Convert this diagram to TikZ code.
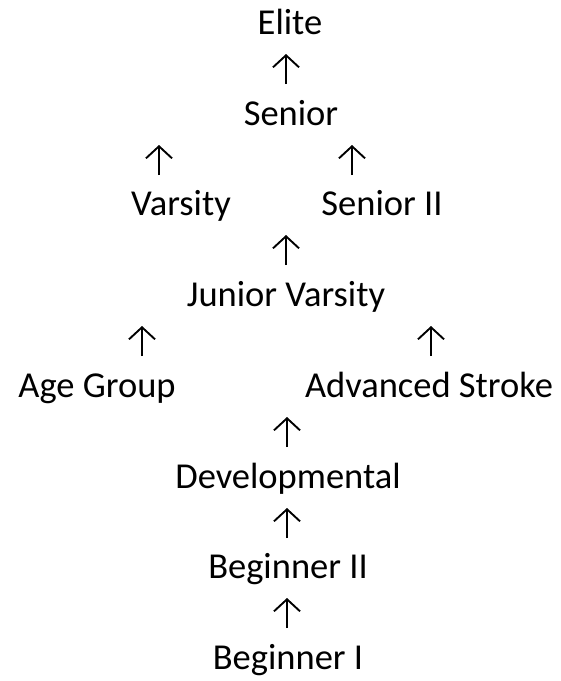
\documentclass[tikz,border=0pt]{standalone}
\usepackage{fontspec}
\setmainfont{Carlito}
\usetikzlibrary{arrows.meta}

\begin{document}
\begin{tikzpicture}[
		x=1pt, y=-1pt,
		level/.style={anchor=base, inner sep=0pt, font=\fontsize{36.5}{42}\selectfont},
		up/.style={line width=1.9pt, -{Straight Barb[length=12pt, width=26pt]}},
		]
	\useasboundingbox (0,0) rectangle (561,681);

	% the levels, top to bottom
	\node (elite) [level] at (290,34) {Elite};
	\node (senior) [level] at (291,125) {Senior};
	\node (varsity) [level] at (181,215) {Varsity};
	\node (senior2) [level] at (382,215) {Senior II};
	\node (jv) [level] at (286,306) {Junior Varsity};
	\node (agegroup) [level] at (97,397) {Age Group};
	\node (advstroke) [level] at (429,397) {Advanced Stroke};
	\node (devel) [level] at (288,488) {Developmental};
	\node (begin2) [level] at (288,578) {Beginner II};
	\node (begin1) [level] at (288,669) {Beginner I};

	% arrow ends
	\coordinate (u1a) at (286,84);  \coordinate (u1b) at (286,54);
	\coordinate (u2a) at (159,175); \coordinate (u2b) at (159,145);
	\coordinate (u3a) at (352,175); \coordinate (u3b) at (352,145);
	\coordinate (u4a) at (286,265); \coordinate (u4b) at (286,235);
	\coordinate (u5a) at (142,356); \coordinate (u5b) at (142,326);
	\coordinate (u6a) at (431,356); \coordinate (u6b) at (431,326);
	\coordinate (u7a) at (287,447); \coordinate (u7b) at (287,417);
	\coordinate (u8a) at (287,538); \coordinate (u8b) at (287,508);
	\coordinate (u9a) at (287,628); \coordinate (u9b) at (287,598);

	\foreach \i in {1,...,9}
		\draw[up] (u\i a) -- (u\i b);
\end{tikzpicture}
\end{document}
